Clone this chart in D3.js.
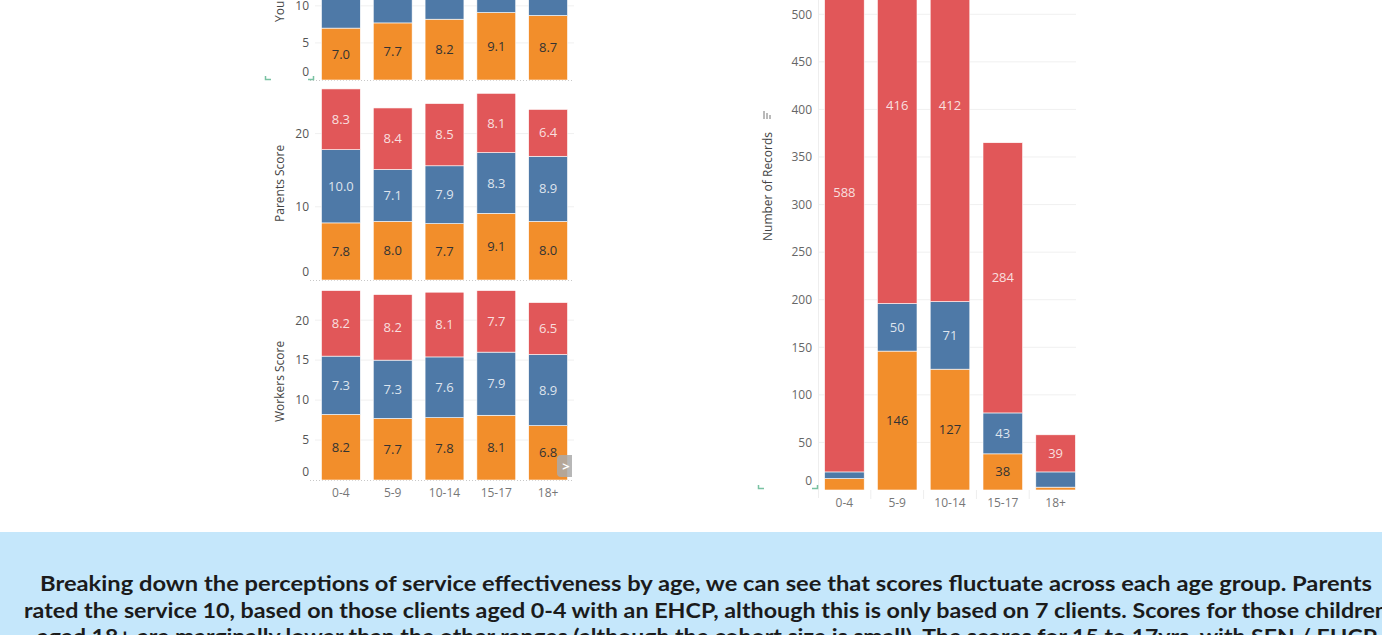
<!DOCTYPE html>
<html>
<head>
<meta charset="utf-8">
<script src="https://cdn.jsdelivr.net/npm/d3@7"></script>
<style>
  body { margin: 0; background: #fff; overflow: hidden; }
  svg { display: block; font-family: "Open Sans", sans-serif; }
</style>
</head>
<body>
<svg id="chart" width="1382" height="635"></svg>
<script>
const ageGroups = ["0-4", "5-9", "10-14", "15-17", "18+"];
const groupKeys = ["SEN", "EHCP", "No SEN"];
const groupColors = ["#F28E2B", "#4E79A7", "#E15759"];

// scores per age group (SEN / EHCP / no SEN)
const youngSen = [7.0, 7.7, 8.2, 9.1, 8.7];
const youngEhcp = [9.8, 8.8, 8.4, 8.2, 8.5];
const youngNone = [8.1, 7.9, 8.0, 7.7, 6.9];
const parentsSen = [7.8, 8.0, 7.7, 9.1, 8.0];
const parentsEhcp = [10.0, 7.1, 7.9, 8.3, 8.9];
const parentsNone = [8.3, 8.4, 8.5, 8.1, 6.4];
const workersSen = [8.2, 7.7, 7.8, 8.1, 6.8];
const workersEhcp = [7.3, 7.3, 7.6, 7.9, 8.9];
const workersNone = [8.2, 8.2, 8.1, 7.7, 6.5];

// number of records
const recordsSen = [12, 146, 127, 38, 3];
const recordsEhcp = [7, 50, 71, 43, 16];
const recordsNone = [588, 416, 412, 284, 39];

const youngTicks = [0, 5, 10];
const parentsTicks = [0, 10, 20];
const workersTicks = [0, 5, 10, 15, 20];
const recordTicks = [0, 50, 100, 150, 200, 250, 300, 350, 400, 450, 500];

const summaryLines = [
  "Breaking down the perceptions of service effectiveness by age, we can see that scores fluctuate across each age group. Parents",
  "rated the service 10, based on those clients aged 0-4 with an EHCP, although this is only based on 7 clients. Scores for those children",
  "aged 18+ are marginally lower than the other ranges (although the cohort size is small). The scores for 15 to 17yrs, with SEN / EHCP"
];

const svg = d3.select('#chart');

function rows(sen, ehcp, none) {
  return ageGroups.map((a, i) => ({ age: a, "SEN": sen[i], "EHCP": ehcp[i], "No SEN": none[i] }));
}

const stack = d3.stack().keys(groupKeys);
const color = d3.scaleOrdinal().domain(groupKeys).range(groupColors);
const labelColor = k => k === "SEN" ? "#333" : "rgba(255,255,255,0.82)";

// ---------- left: three score panels ----------
const xLeft = d3.scaleBand()
  .domain(ageGroups)
  .range([315, 574])
  .paddingInner(0.25)
  .paddingOuter(0.125);

const panels = [
  { title: "Young Person Score", data: rows(youngSen, youngEhcp, youngNone), ticks: youngTicks, max: 26.3, top: -115, bottom: 80 },
  { title: "Parents Score", data: rows(parentsSen, parentsEhcp, parentsNone), ticks: parentsTicks, max: 26.5, top: 86, bottom: 280 },
  { title: "Workers Score", data: rows(workersSen, workersEhcp, workersNone), ticks: workersTicks, max: 24.4, top: 285, bottom: 480 }
];

panels.forEach(p => {
  const y = d3.scaleLinear().domain([0, p.max]).range([p.bottom, p.top]);
  const g = svg.append('g');

  g.selectAll('line.grid')
    .data(p.ticks.filter(t => t > 0))
    .join('line')
      .attr('class', 'grid')
      .attr('x1', 315).attr('x2', 574)
      .attr('y1', d => y(d)).attr('y2', d => y(d))
      .attr('stroke', '#f0f0f0');

  g.append('line')
    .attr('x1', 310).attr('x2', 574)
    .attr('y1', p.bottom + 0.5).attr('y2', p.bottom + 0.5)
    .attr('stroke', '#c8c8c8')
    .attr('stroke-dasharray', '1,2');

  const ax = g.append('g')
    .attr('transform', 'translate(315,0)')
    .call(d3.axisLeft(y).tickValues(p.ticks).tickSize(0).tickPadding(6));
  ax.select('.domain').remove();
  ax.selectAll('text')
    .attr('font-size', 12)
    .attr('fill', '#555')
    .attr('font-family', '"Open Sans", sans-serif')
    .attr('y', d => d === 0 ? -8 : 0);

  const layers = g.selectAll('g.layer')
    .data(stack(p.data))
    .join('g')
      .attr('class', 'layer')
      .attr('fill', d => color(d.key));

  layers.selectAll('rect')
    .data(d => d)
    .join('rect')
      .attr('x', d => xLeft(d.data.age))
      .attr('width', xLeft.bandwidth())
      .attr('y', d => y(d[1]))
      .attr('height', d => y(d[0]) - y(d[1]))
      .attr('stroke', '#fff')
      .attr('stroke-width', 0.6);

  // only the labels that land inside the visible page
  layers.selectAll('text')
    .data(d => d.map(v => ({ v: v, key: d.key })).filter(e => (y(e.v[0]) + y(e.v[1])) / 2 > 8))
    .join('text')
      .attr('x', d => xLeft(d.v.data.age) + xLeft.bandwidth() / 2)
      .attr('y', d => (y(d.v[0]) + y(d.v[1])) / 2)
      .attr('dy', '0.35em')
      .attr('text-anchor', 'middle')
      .attr('font-size', 13)
      .attr('fill', d => labelColor(d.key))
      .text(d => d3.format('.1f')(d.v[1] - d.v[0]));

  g.append('text')
    .attr('transform', `translate(284,${p.bottom - 58}) rotate(-90)`)
    .attr('font-size', 12)
    .attr('fill', '#444')
    .text(p.title);
});

svg.append('g')
  .selectAll('text')
  .data(ageGroups)
  .join('text')
    .attr('x', d => xLeft(d) + xLeft.bandwidth() / 2)
    .attr('y', 497)
    .attr('text-anchor', 'middle')
    .attr('font-size', 12)
    .attr('fill', '#777')
    .text(d => d);

// scroll arrow button
svg.append('path')
  .attr('d', 'M572,455 H561 Q557,455 557,459 V473 Q557,477 561,477 H572 Z')
  .attr('fill', '#aaa')
  .attr('opacity', 0.85);
svg.append('text')
  .attr('x', 566).attr('y', 471)
  .attr('text-anchor', 'middle')
  .attr('font-size', 13)
  .attr('font-weight', 'bold')
  .attr('fill', '#fff')
  .text('>');

// ---------- right: number of records ----------
const xRight = d3.scaleBand()
  .domain(ageGroups)
  .range([818, 1082])
  .paddingInner(0.25)
  .paddingOuter(0.125);

const yRight = d3.scaleLinear().domain([0, 515]).range([490, 0]);

svg.append('clipPath')
  .attr('id', 'rightClip')
  .append('rect')
    .attr('x', 818).attr('y', -20)
    .attr('width', 258).attr('height', 511);

const rg = svg.append('g');

rg.selectAll('line.grid')
  .data(recordTicks.filter(t => t > 0))
  .join('line')
    .attr('class', 'grid')
    .attr('x1', 818).attr('x2', 1076)
    .attr('y1', d => yRight(d)).attr('y2', d => yRight(d))
    .attr('stroke', '#f0f0f0');

rg.append('line')
  .attr('x1', 818.5).attr('x2', 818.5)
  .attr('y1', 0).attr('y2', 498)
  .attr('stroke', '#eee');

rg.selectAll('line.sep')
  .data(ageGroups.slice(1))
  .join('line')
    .attr('class', 'sep')
    .attr('x1', d => xRight(d) - xRight.step() * 0.125)
    .attr('x2', d => xRight(d) - xRight.step() * 0.125)
    .attr('y1', 490).attr('y2', 499)
    .attr('stroke', '#eee');

const rax = rg.append('g')
  .attr('transform', 'translate(818,0)')
  .call(d3.axisLeft(yRight).tickValues(recordTicks).tickSize(0).tickPadding(6));
rax.select('.domain').remove();
rax.selectAll('text')
  .attr('font-size', 12)
  .attr('fill', '#666')
  .attr('font-family', '"Open Sans", sans-serif')
  .attr('y', d => d === 0 ? -9 : 0);

const recordLayers = rg.append('g')
  .attr('clip-path', 'url(#rightClip)')
  .selectAll('g.layer')
  .data(stack(rows(recordsSen, recordsEhcp, recordsNone)))
  .join('g')
    .attr('class', 'layer')
    .attr('fill', d => color(d.key));

recordLayers.selectAll('rect')
  .data(d => d)
  .join('rect')
    .attr('x', d => xRight(d.data.age))
    .attr('width', xRight.bandwidth())
    .attr('y', d => yRight(d[1]))
    .attr('height', d => yRight(d[0]) - yRight(d[1]))
    .attr('stroke', '#fff')
    .attr('stroke-width', 0.6);

recordLayers.selectAll('text')
  .data(d => d.map(v => ({ v: v, key: d.key })).filter(e => yRight(e.v[0]) - yRight(e.v[1]) > 20))
  .join('text')
    .attr('x', d => xRight(d.v.data.age) + xRight.bandwidth() / 2)
    .attr('y', d => (yRight(d.v[0]) + yRight(d.v[1])) / 2)
    .attr('dy', '0.35em')
    .attr('text-anchor', 'middle')
    .attr('font-size', 13)
    .attr('fill', d => labelColor(d.key))
    .text(d => d.v[1] - d.v[0]);

rg.selectAll('text.xlab')
  .data(ageGroups)
  .join('text')
    .attr('class', 'xlab')
    .attr('x', d => xRight(d) + xRight.bandwidth() / 2)
    .attr('y', 507)
    .attr('text-anchor', 'middle')
    .attr('font-size', 12)
    .attr('fill', '#777')
    .text(d => d);

rg.append('text')
  .attr('transform', 'translate(772,241) rotate(-90)')
  .attr('font-size', 12)
  .attr('fill', '#444')
  .text('Number of Records');

// sort icon next to the axis title
rg.append('path')
  .attr('d', 'M764,119 V111 M767,119 V113 M770,119 V115')
  .attr('stroke', '#777')
  .attr('stroke-width', 1);

// small green corner marks
svg.append('path')
  .attr('d', 'M265.5,76 V79.5 H271 M308,79.5 H313.5 V76 M758.5,485 V488.5 H764 M812,488.5 H817.5 V485')
  .attr('fill', 'none')
  .attr('stroke', '#79c2a2')
  .attr('stroke-width', 1.5);

// ---------- summary box ----------
svg.append('rect')
  .attr('x', 0).attr('y', 532)
  .attr('width', 1382).attr('height', 103)
  .attr('fill', '#C5E7FB');

const lineStarts = [40, 24, 37];
const lineWidths = [1332, 1364, 1340];

svg.append('g')
  .selectAll('text')
  .data(summaryLines)
  .join('text')
    .attr('x', (d, i) => lineStarts[i])
    .attr('y', (d, i) => 591 + i * 26.5)
    .attr('textLength', (d, i) => lineWidths[i])
    .attr('lengthAdjust', 'spacingAndGlyphs')
    .attr('font-family', 'Lato, sans-serif')
    .attr('font-weight', 'bold')
    .attr('font-size', 21)
    .attr('fill', '#1b1b1b')
    .text(d => d);
</script>
</body>
</html>
